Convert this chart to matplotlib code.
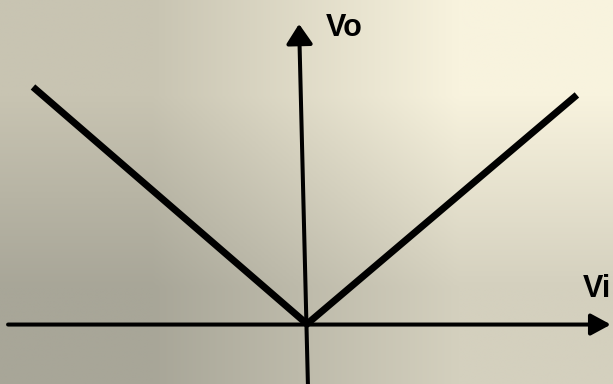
import numpy as np
from matplotlib import pyplot as plt

# transfer characteristic (full-wave rectifier), in units of the input swing
vi_values = [-1.0, 0.0, 0.985]
vo_values = [0.865, 0.0, 0.836]

x_axis_label = "Vi"
y_axis_label = "Vo"

# corner colours of the slide background (top-left, top-right / bottom-left, bottom-right)
background_corners = np.array(
    [
        [[200, 196, 178], [248, 243, 222]],
        [[168, 166, 152], [212, 208, 190]],
    ]
) / 255.0

fig = plt.figure(figsize=(6.13, 3.84), dpi=100)
axis = fig.add_axes([0, 0, 1, 1])

x_min, x_max = -1.1204, 1.1168
y_min, y_max = -0.219, 1.1825

axis.imshow(
    background_corners,
    extent=(x_min, x_max, y_min, y_max),
    interpolation="bilinear",
    aspect="auto",
    zorder=0,
)

# horizontal axis (Vi)
axis.annotate(
    "",
    xy=(1.109, -0.002),
    xytext=(-1.091, -0.002),
    arrowprops=dict(
        arrowstyle="-|>,head_length=1.2,head_width=0.65",
        color="black",
        linewidth=2.9,
        shrinkA=0,
        shrinkB=0,
    ),
    zorder=2,
)

# vertical axis (Vo), slightly tilted as in the original drawing
axis.annotate(
    "",
    xy=(-0.029, 1.095),
    xytext=(0.0036, -0.23),
    arrowprops=dict(
        arrowstyle="-|>,head_length=1.2,head_width=0.8",
        color="black",
        linewidth=2.9,
        shrinkA=0,
        shrinkB=0,
    ),
    zorder=2,
)

axis.plot(
    vi_values,
    vo_values,
    color="black",
    linewidth=5.0,
    solid_capstyle="butt",
    solid_joinstyle="miter",
    zorder=3,
)

axis.text(
    0.068,
    1.05,
    y_axis_label,
    fontsize=22,
    fontweight="bold",
    family=["Liberation Sans", "DejaVu Sans"],
    ha="left",
    va="baseline",
)
axis.text(
    1.007,
    0.099,
    x_axis_label,
    fontsize=22,
    fontweight="bold",
    family=["Liberation Sans", "DejaVu Sans"],
    ha="left",
    va="baseline",
)

axis.set_xlim(x_min, x_max)
axis.set_ylim(y_min, y_max)
axis.axis("off")

fig.savefig("out.png", dpi=100)
